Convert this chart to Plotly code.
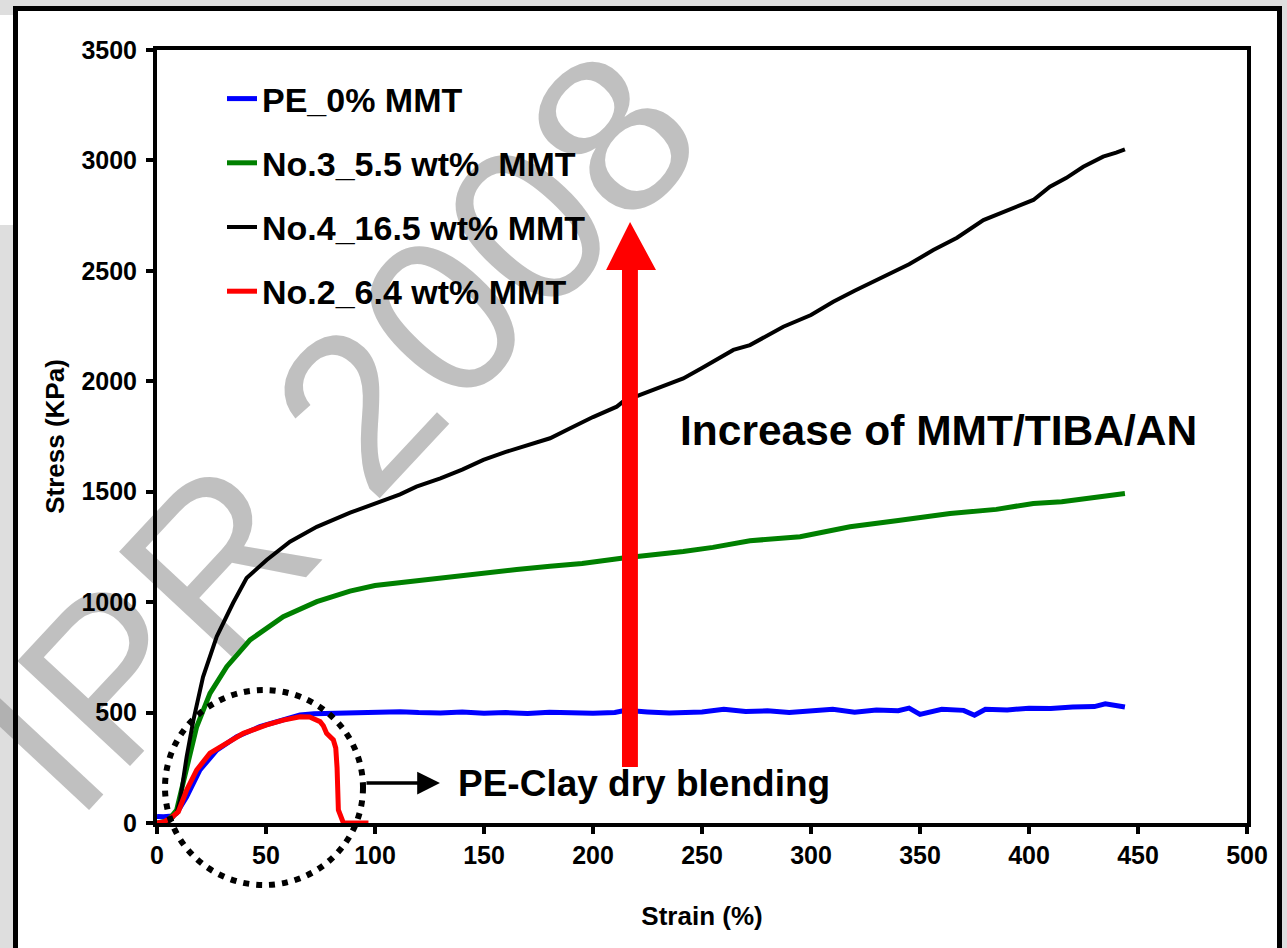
import plotly.graph_objects as go

# ---------------- data ----------------
pe_x = [0, 3, 7, 9, 13.6, 19.7, 27.4, 36.6, 47.2, 57.9, 65.6, 72, 77.8, 88.5, 100, 111.5, 120, 130,
        140, 150, 160, 170, 180, 190, 200, 210, 215, 225, 235, 250, 260, 270, 280, 290, 300, 310,
        320, 330, 340, 345, 350, 360, 370, 375, 380, 390, 400, 410, 420, 430, 435, 440, 444]
pe_y = [30, 28, 32, 44, 119, 240, 330, 391, 436, 466, 489, 495, 496, 496, 503, 504, 500, 498,
        503, 497, 500, 496, 502, 497, 497, 500, 510, 503, 498, 503, 515, 505, 508, 500, 505, 515,
        502, 512, 508, 520, 492, 515, 510, 488, 515, 512, 520, 518, 525, 527, 540, 530, 525]

no3_x = [0, 5, 9, 13.6, 18.2, 24.3, 32, 42.7, 57.9, 73.3, 88.5, 100, 111.5, 119, 135, 149.7, 165,
         180.3, 195, 213.9, 225, 241.4, 255, 272, 295, 317.9, 340, 363.8, 385, 402, 415, 424.9,
         435, 444]
no3_y = [0, 10, 59, 240, 436, 587, 708, 829, 934, 1002, 1050, 1075, 1088, 1100, 1115, 1135, 1148,
         1162, 1175, 1200, 1210, 1229, 1248, 1278, 1296, 1341, 1370, 1401, 1420, 1447, 1455, 1469,
         1480, 1492]

no4_x = [0, 3, 6, 9, 10.6, 13.6, 16.7, 21.1, 27.4, 34.9, 41.1, 50.3, 61, 73.3, 88.6, 103.7, 111.5,
         119, 130, 140, 149.7, 160, 170, 180.3, 190, 200, 210.9, 213.8, 221.6, 230, 241.4, 250,
         264.4, 272, 287.3, 300, 310.2, 320, 333.2, 345, 356.1, 367, 379.1, 390, 402, 409.6, 417,
         424.9, 434, 440, 444]
no4_y = [0, 2, 10, 45, 104, 300, 466, 661, 844, 996, 1109, 1191, 1274, 1341, 1405, 1462, 1488,
         1523, 1560, 1600, 1644, 1680, 1710, 1742, 1790, 1838, 1885, 1908, 1938, 1970, 2013, 2060,
         2142, 2164, 2247, 2300, 2360, 2410, 2474, 2530, 2594, 2650, 2730, 2775, 2821, 2881, 2920,
         2971, 3017, 3035, 3050]

no2_x = [0, 3, 6, 9.8, 13.6, 18.2, 24.3, 32, 39.6, 50.3, 57.9, 65.6, 70, 74.8, 76.3, 77.8, 80.9,
         82.0, 82.6, 83.2, 84.7, 85.5, 90, 97]
no2_y = [0, 5, 20, 51, 149, 240, 316, 361, 406, 444, 466, 481, 480, 459, 440, 406, 376,
         340, 250, 59, 15, 0, 0, 0]

series_names = ["PE_0% MMT", "No.3_5.5 wt%  MMT", "No.4_16.5 wt% MMT", "No.2_6.4 wt% MMT"]
x_ticks = [0, 50, 100, 150, 200, 250, 300, 350, 400, 450, 500]
y_ticks = [0, 500, 1000, 1500, 2000, 2500, 3000, 3500]

# ---------------- figure ----------------
W, H = 1287, 948
L, R, T, B = 157, 1247, 50, 823  # plot area in pixels


def px(p):
    return (p - L) / (R - L)


def py(p):
    return (B - p) / (B - T)


FONT = "Liberation Sans, Arial, sans-serif"

fig = go.Figure()
fig.add_trace(go.Scatter(x=pe_x, y=pe_y, mode="lines", name=series_names[0],
                         line=dict(color="#0000ff", width=5), legendgroup="a"))
fig.add_trace(go.Scatter(x=no3_x, y=no3_y, mode="lines", name=series_names[1],
                         line=dict(color="#008000", width=5), legendgroup="b"))
fig.add_trace(go.Scatter(x=no4_x, y=no4_y, mode="lines", name=series_names[2],
                         line=dict(color="#000000", width=4), legendgroup="c"))
fig.add_trace(go.Scatter(x=no2_x, y=no2_y, mode="lines", name=series_names[3],
                         line=dict(color="#ff0000", width=5), legendgroup="d"))

shapes = [
    # white card with black frame
    dict(type="rect", xref="paper", yref="paper", x0=px(15), x1=px(1280), y0=py(8), y1=py(1000),
         fillcolor="white", line=dict(width=0), layer="below"),
    dict(type="rect", xref="paper", yref="paper", x0=px(0), x1=px(15), y0=py(15), y1=py(225),
         fillcolor="white", line=dict(width=0), layer="below"),
    # watermark
    dict(type="rect", xref="paper", yref="paper", x0=px(320), x1=px(322), y0=py(415), y1=py(417),
         fillcolor="rgba(0,0,0,0)", line=dict(width=0), layer="below",
         label=dict(text="IPR 2008", textangle=-47, textposition="middle center",
                    font=dict(family=FONT, size=224, color="rgba(140,140,140,0.55)"))),
    dict(type="rect", xref="paper", yref="paper", x0=px(15.5), x1=px(1279.5), y0=py(8.5), y1=py(1000),
         fillcolor="rgba(0,0,0,0)", line=dict(width=5, color="black"), layer="above"),
    # dotted circle
    dict(type="circle", xref="paper", yref="paper", x0=px(165), x1=px(363), y0=py(885), y1=py(690),
         line=dict(color="black", width=6, dash="6px,7px"), layer="above"),
    # big red arrow
    dict(type="path", xref="x", yref="y",
         path="M 213.3 254 L 220.6 254 L 220.6 2504 L 228.9 2504 L 217 2721 L 206.0 2504 L 213.3 2504 Z",
         fillcolor="#ff0000", line=dict(width=0), layer="above"),
]

annotations = [
    dict(x=358.7, y=1779, xref="x", yref="y", text="Increase of MMT/TIBA/AN", showarrow=False,
         font=dict(family=FONT, size=42.5, color="black", weight="bold"), xanchor="center", yanchor="middle"),
    dict(x=137.2, y=181, xref="x", yref="y", text="PE-Clay dry blending", showarrow=False,
         font=dict(family=FONT, size=37, color="black", weight="bold"), xanchor="left", yanchor="middle"),
    dict(x=129.8, y=181, xref="x", yref="y", ax=95.4, ay=181, axref="x", ayref="y", text="",
         showarrow=True, arrowhead=2, arrowsize=1.3, arrowwidth=3.5, arrowcolor="black"),
]

axis_common = dict(showline=True, linewidth=4, linecolor="black", mirror=True, ticks="outside",
                   ticklen=7, tickwidth=4, tickcolor="black", showgrid=False, zeroline=False,
                   layer="below traces",
                   tickfont=dict(family=FONT, size=25, color="black", weight="bold"))

fig.update_layout(
    width=W, height=H,
    margin=dict(l=L, r=W - R, t=T, b=H - B, autoexpand=False),
    paper_bgcolor="#dedede", plot_bgcolor="white",
    shapes=shapes, annotations=annotations,
    xaxis=dict(range=[0, 500], tickvals=x_ticks,
               title=dict(text="Strain (%)", standoff=40,
                          font=dict(family=FONT, size=26, color="black", weight="bold")),
               **axis_common),
    yaxis=dict(range=[0, 3500], tickvals=y_ticks, ticklabelstandoff=4,
               title=dict(text="Stress (KPa)", standoff=10,
                          font=dict(family=FONT, size=26, color="black", weight="bold")),
               **axis_common),
    legend=dict(x=px(222), y=py(70), xanchor="left", yanchor="top", bgcolor="rgba(0,0,0,0)",
                traceorder="grouped", tracegroupgap=17,
                font=dict(family=FONT, size=34, color="black", weight="bold")),
    showlegend=True,
)

fig.write_html("out.html", config={"displayModeBar": False},
               post_script="document.body.style.margin='0px';document.body.style.overflow='hidden';")
